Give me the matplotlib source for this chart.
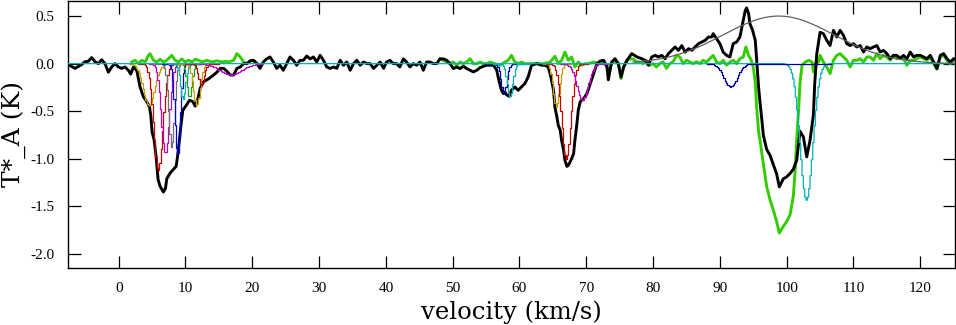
import numpy as np
import matplotlib
matplotlib.use("Agg")
import matplotlib.pyplot as plt

plt.rcParams['font.family'] = ['DejaVu Serif']
plt.rcParams['axes.unicode_minus'] = False

# ---------------- data ----------------
black_points = [
    (-7.55, -0.01), (-7.05, -0.03), (-6.55, -0.05), (-6.05, -0.03), (-5.55, -0.01),
    (-5.05, 0.02), (-4.55, 0.025), (-4.05, 0.063), (-3.55, 0.02), (-3.05, 0.0),
    (-2.55, 0.04), (-2.05, 0.0), (-1.55, -0.09), (-1.05, -0.035), (-0.55, 0.0),
    (-0.05, -0.035), (0.45, -0.05), (0.95, -0.035), (1.45, -0.07), (1.8, -0.11),
    (2.2, -0.035), (2.7, -0.07), (3.2, -0.245), (3.7, -0.35), (4.2, -0.40),
    (4.6, -0.455), (4.8, -0.54), (5.0, -0.72), (5.3, -0.80), (5.6, -0.98),
    (5.9, -1.22), (6.2, -1.29), (6.7, -1.35), (7.0, -1.31), (7.2, -1.21),
    (7.7, -1.15), (8.2, -1.11), (8.6, -1.08), (8.8, -0.98), (9.1, -0.80),
    (9.3, -0.66), (9.6, -0.49), (10.1, -0.44), (10.6, -0.385), (11.1, -0.40),
    (11.45, -0.447), (11.8, -0.385), (12.2, -0.26), (12.7, -0.19), (13.45, -0.16),
    (14.2, -0.12), (14.7, -0.09), (15.2, -0.05), (15.7, -0.05), (16.2, -0.08),
    (16.7, -0.12), (17.2, -0.12), (17.7, -0.05), (18.2, -0.035), (18.7, 0.0),
    (19.2, 0.0), (19.7, 0.03), (20.2, 0.035), (20.7, 0.0), (21.15, -0.05),
    (21.65, 0.017), (22.15, 0.05), (22.65, 0.07), (23.15, 0.017), (23.65, -0.05),
    (24.15, -0.017), (24.65, -0.07), (25.15, 0.0), (25.65, 0.07), (26.15, 0.035),
    (26.65, -0.017), (27.15, 0.035), (27.65, 0.035), (28.15, 0.08), (28.65, 0.05),
    (29.15, 0.07), (29.65, 0.017), (30.15, 0.087), (30.65, 0.035), (31.15, -0.035),
    (31.65, -0.05), (32.15, -0.035), (32.65, -0.05), (33.15, 0.035), (33.65, -0.017),
    (34.15, 0.017), (34.65, -0.07), (35.15, 0.0), (35.65, 0.035), (36.15, -0.017),
    (36.65, 0.017), (37.15, 0.0), (37.65, 0.0), (38.15, -0.05), (38.65, -0.017),
    (39.15, 0.017), (39.65, -0.05), (40.1, 0.017), (40.6, 0.035), (41.1, 0.0),
    (41.6, 0.0), (42.1, -0.035), (42.6, 0.05), (43.1, 0.017), (43.6, -0.035),
    (44.1, 0.0), (44.6, -0.017), (45.1, 0.017), (45.6, -0.07), (46.1, 0.017),
    (46.6, 0.017), (47.1, 0.0), (47.6, 0.0), (48.1, 0.05), (48.6, 0.05),
    (49.1, 0.035), (49.6, 0.0), (50.1, -0.052), (50.6, -0.035), (51.1, -0.052),
    (51.6, -0.028), (52.1, -0.052), (52.6, -0.07), (53.1, -0.087), (53.6, -0.07),
    (54.1, -0.042), (54.6, -0.028), (55.1, -0.017), (55.6, -0.017), (56.1, -0.017),
    (56.6, -0.07), (56.8, -0.14), (57.1, -0.227), (57.3, -0.28), (57.6, -0.315),
    (57.8, -0.30), (58.1, -0.33), (58.5, -0.343), (58.8, -0.28), (59.3, -0.245),
    (59.8, -0.28), (60.3, -0.245), (60.8, -0.21), (61.3, -0.14), (61.8, -0.017),
    (62.6, 0.0), (63.3, -0.017), (63.8, -0.017), (64.3, -0.035), (64.7, -0.14),
    (65.1, -0.28), (65.3, -0.455), (65.6, -0.56), (65.8, -0.647), (66.1, -0.70),
    (66.3, -0.805), (66.6, -0.91), (66.8, -1.015), (67.1, -1.08), (67.3, -1.07),
    (67.6, -1.03), (67.8, -1.0), (68.1, -0.945), (68.3, -0.805), (68.6, -0.63),
    (68.8, -0.49), (69.1, -0.40), (69.6, -0.367), (70.1, -0.315), (70.6, -0.21),
    (71.1, -0.105), (71.6, 0.0), (72.1, 0.028), (72.6, 0.035), (73.1, -0.035),
    (73.3, -0.17), (73.8, 0.017), (74.3, 0.052), (74.8, 0.0), (75.2, -0.14),
    (75.6, -0.035), (76.1, 0.035), (76.8, 0.105), (77.6, 0.07), (78.3, 0.052),
    (78.8, 0.035), (79.3, -0.017), (79.8, 0.07), (80.3, 0.087), (80.8, 0.07),
    (81.3, 0.087), (81.8, 0.052), (82.3, 0.105), (82.8, 0.14), (83.3, 0.175),
    (83.8, 0.14), (84.3, 0.19), (84.8, 0.12), (85.3, 0.157), (85.8, 0.14),
    (86.3, 0.175), (86.8, 0.21), (87.3, 0.227), (87.8, 0.245), (88.3, 0.28),
    (88.8, 0.28), (89.0, 0.315), (89.5, 0.262), (90.0, 0.21), (90.5, 0.12),
    (91.0, 0.087), (91.5, 0.07), (92.0, 0.21), (92.5, 0.227), (93.0, 0.28),
    (93.4, 0.42), (93.8, 0.56), (94.0, 0.587), (94.3, 0.525), (94.5, 0.42),
    (94.9, 0.35), (95.3, 0.245), (95.5, 0.05), (95.8, -0.25), (96.0, -0.40),
    (96.3, -0.60), (96.5, -0.75), (97.0, -0.90), (97.5, -0.962), (98.0, -1.06),
    (98.5, -1.16), (98.9, -1.295), (99.5, -1.21), (100.0, -1.19), (100.5, -1.155),
    (101.0, -1.11), (101.5, -1.015), (102.0, -0.71), (102.5, -0.77), (103.0, -0.98),
    (103.5, -0.805), (104.0, -0.54), (104.2, -0.21), (104.5, 0.10), (105.0, 0.33),
    (105.5, 0.315), (106.0, 0.245), (106.5, 0.19), (107.0, 0.35), (107.5, 0.28),
    (108.0, 0.35), (108.5, 0.297), (109.0, 0.21), (109.5, 0.19), (110.0, 0.21),
    (110.5, 0.175), (111.0, 0.19), (111.5, 0.122), (112.0, 0.175), (112.5, 0.157),
    (113.0, 0.175), (113.5, 0.19), (114.0, 0.122), (114.5, 0.14), (115.0, 0.105),
    (115.5, 0.052), (116.0, 0.087), (116.5, 0.087), (117.0, 0.052), (117.5, 0.087),
    (118.0, 0.052), (118.5, 0.122), (119.0, 0.07), (119.5, 0.087), (120.0, 0.087),
    (120.5, 0.07), (121.0, 0.052), (121.5, 0.087), (122.0, 0.017), (122.5, -0.052),
    (123.0, 0.087), (123.5, 0.105), (124.0, 0.052), (124.5, 0.017), (125.0, 0.052),
    (125.3, 0.05),
]

green_points_1 = [
    (1.95, 0.017), (2.45, 0.035), (2.95, 0.0), (3.45, 0.035), (3.95, 0.017),
    (4.45, 0.087), (4.7, 0.105), (5.2, 0.035), (5.7, 0.017), (6.2, 0.045),
    (6.7, 0.017), (7.2, 0.035), (7.95, 0.087), (8.45, 0.035), (8.95, 0.017),
    (9.45, 0.05), (9.95, 0.017), (10.45, 0.035), (10.95, 0.017), (11.45, 0.045),
    (11.95, 0.035), (12.45, 0.017), (13.2, 0.035), (13.95, 0.017), (14.7, 0.03),
    (15.45, 0.017), (15.95, 0.025), (16.45, 0.017), (17.2, 0.035), (17.7, 0.105),
    (18.2, 0.07), (18.7, 0.017), (19.2, 0.0), (19.95, 0.035), (20.7, 0.0),
]

green_points_2 = [
    (48.1, 0.052), (48.6, 0.035), (49.1, 0.017), (49.6, 0.0), (50.1, 0.017),
    (50.6, -0.017), (51.1, 0.017), (51.6, 0.0), (52.1, 0.017), (52.6, 0.052),
    (53.1, 0.0), (53.6, 0.0), (54.1, 0.017), (54.6, 0.0), (55.1, 0.0),
    (55.6, 0.017), (56.3, 0.0), (57.1, -0.017), (57.8, 0.017), (58.3, 0.035),
    (58.8, 0.087), (59.3, 0.017), (59.8, 0.0), (60.3, 0.017), (60.8, 0.0),
    (61.6, 0.0), (62.6, 0.0), (63.6, 0.0), (64.6, 0.017), (65.3, 0.077),
    (65.8, 0.0), (66.3, 0.035), (66.8, 0.122), (67.3, 0.035), (67.8, 0.07),
    (68.3, -0.035), (68.8, 0.017), (69.3, -0.017), (69.8, 0.0), (70.3, 0.0),
    (71.1, 0.017), (71.8, 0.0), (72.6, 0.017), (73.1, -0.02), (73.3, -0.105),
    (73.8, 0.01), (74.3, 0.017), (74.8, 0.0), (75.2, -0.157), (75.6, -0.035),
    (76.1, 0.035), (76.5, 0.05), (77.0, 0.05), (77.5, 0.02), (78.0, 0.017),
    (78.5, 0.0), (79.0, 0.035), (79.5, -0.017), (80.0, 0.0), (80.5, -0.035),
    (81.0, 0.0), (81.5, 0.02), (82.0, -0.05), (82.5, 0.0), (83.0, 0.02),
    (83.5, 0.087), (84.0, 0.07), (84.5, 0.0), (85.0, 0.035), (85.5, 0.017),
    (86.0, 0.0), (86.5, 0.02), (87.0, 0.0), (87.5, 0.035), (88.0, 0.017),
    (88.5, 0.052), (89.0, 0.087), (89.5, 0.017), (90.0, 0.0), (90.5, 0.035),
    (91.0, -0.017), (91.5, 0.017), (92.0, 0.035), (92.5, 0.0), (93.0, 0.052),
    (93.5, 0.07), (93.9, 0.175), (94.3, 0.087), (94.7, 0.035), (95.0, -0.035),
    (95.3, -0.2), (95.5, -0.45), (95.8, -0.72), (96.0, -0.80), (96.3, -0.95),
    (96.5, -1.05), (97.0, -1.29), (97.5, -1.43), (98.0, -1.54), (98.5, -1.66),
    (98.9, -1.78), (99.5, -1.71), (100.0, -1.66), (100.5, -1.59), (101.0, -1.39),
    (101.3, -1.09), (101.5, -0.80), (101.8, -0.47), (102.0, -0.2), (102.3, -0.017),
    (102.8, 0.017), (103.3, 0.035), (103.8, 0.017), (104.0, -0.087), (104.3, 0.0),
    (104.8, 0.017), (105.0, 0.087), (105.5, 0.017), (106.0, -0.035), (106.5, -0.105),
    (107.0, 0.035), (107.5, 0.087), (108.0, 0.105), (108.5, 0.07), (109.0, 0.035),
    (109.5, -0.035), (110.0, 0.035), (110.5, 0.035), (111.0, 0.052), (111.5, 0.017),
    (112.0, 0.07), (112.5, 0.07), (113.0, 0.035), (113.5, 0.105), (114.0, 0.052),
    (114.5, 0.087), (115.0, 0.07), (115.5, 0.035), (116.0, 0.087), (116.5, 0.052),
    (117.0, 0.07), (117.5, 0.052), (118.0, -0.017), (118.5, 0.035), (119.0, 0.035),
    (119.5, 0.052), (120.0, 0.07), (120.5, 0.052), (121.0, 0.035), (121.5, 0.07),
    (122.0, 0.0), (122.5, -0.06), (123.0, 0.07), (123.5, 0.087), (124.0, 0.035),
    (124.5, 0.0), (125.0, 0.035), (125.3, 0.03),
]

# Gaussian fit components: (amplitude K, centre km/s, FWHM km/s, colour, v_min, v_max)
components_under = [
    (-0.44, 4.55, 2.0, '#c89b00', 1.5, 8.0),
    (-1.12, 5.95, 1.6, '#c80000', 3.0, 9.0),
    (-0.945, 7.0, 1.4, '#c000c0', 4.5, 9.5),
    (-0.88, 7.95, 1.0, '#707070', 5.5, 10.5),
    (-0.945, 8.85, 0.95, '#0000e0', 6.5, 11.0),
    (-0.37, 9.67, 0.9, '#00b0b8', 7.5, 12.0),
    (-0.35, 10.6, 0.85, '#20a020', 8.5, 12.5),
    (-0.44, 11.67, 1.2, '#c89b00', 9.0, 14.5),
    (-0.23, 12.35, 1.0, '#c80000', 10.0, 15.0),
    (-0.115, 16.8, 3.8, '#c000c0', 12.0, 21.5),
    (-0.315, 57.7, 1.0, '#0000a0', 55.0, 60.5),
    (-0.34, 58.6, 1.0, '#00b0b8', 56.0, 61.5),
    (-0.455, 65.5, 1.1, '#c89b00', 63.5, 67.5),
    (-1.0, 67.0, 1.6, '#c80000', 64.0, 70.0),
    (-0.385, 69.45, 2.0, '#c000c0', 66.0, 73.0),
]
component_full = (-1.435, 103.0, 2.25, '#00b0b8', -8.0, 126.0)
component_over = (-0.245, 91.6, 2.35, '#0000a0', 88.0, 106.5)
emission_arc = (0.5, 98.8, 19.5, '#606060', 77.0, 126.0)

x_ticks = list(range(0, 121, 10))
y_ticks = [0.5, 0.0, -0.5, -1.0, -1.5, -2.0]


def gauss_curve(comp, step=0.2):
    amp, cen, fwhm, col, lo, hi = comp
    v = np.arange(lo, hi + step, step)
    t = amp * np.exp(-4.0 * np.log(2.0) * (v - cen) ** 2 / fwhm ** 2)
    return v, t, col


# ---------------- figure ----------------
fig = plt.figure(figsize=(9.56, 3.25), dpi=100)
ax = fig.add_axes([68 / 956, 1 - 267.7 / 325, (955 - 68) / 956, 267.7 / 325 - 0.002])

g1v, g1t = zip(*green_points_1)
g2v, g2t = zip(*green_points_2)
ax.plot(g1v, g1t, color='#33cc00', lw=2.1, zorder=2)
ax.plot(g2v, g2t, color='#33cc00', lw=2.1, zorder=2)

bv, bt = zip(*black_points)
ax.plot(bv, bt, color='black', lw=2.1, zorder=3)

for comp in components_under:
    v, t, col = gauss_curve(comp)
    ax.plot(v, t, color=col, lw=0.9, drawstyle='steps-mid', zorder=4)
for comp in (component_full, component_over):
    v, t, col = gauss_curve(comp)
    ax.plot(v, t, color=col, lw=0.9, drawstyle='steps-mid', zorder=4)
v, t, col = gauss_curve(emission_arc)
ax.plot(v, t, color=col, lw=0.9, zorder=4)

ax.set_xlim(-7.59, 125.2)
ax.set_ylim(-2.145, 0.662)
ax.set_xticks(x_ticks)
ax.set_yticks(y_ticks)
ax.set_yticklabels([f"{y:.1f}" for y in y_ticks])
ax.tick_params(direction='in', length=9, width=0.9, top=True, right=True)
ax.tick_params(axis='x', pad=10)
ax.tick_params(axis='y', pad=10)
for lab in ax.get_xticklabels() + ax.get_yticklabels():
    lab.set_fontfamily(['Liberation Serif', 'DejaVu Serif'])
    lab.set_fontsize(11)
for s in ax.spines.values():
    s.set_linewidth(1.0)

ax.set_xlabel('velocity (km/s)', fontsize=17.5, labelpad=4)
ax.set_ylabel('T*_A (K)', fontsize=18)
ax.yaxis.set_label_coords(-0.047, 0.5)

fig.savefig('out.png', dpi=100)
